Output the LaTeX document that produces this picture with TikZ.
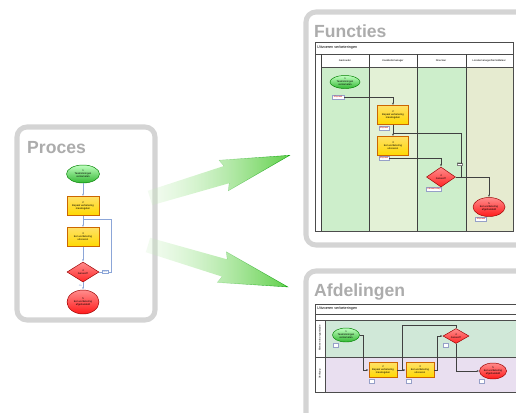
\documentclass[tikz,border=0pt]{standalone}
\usepackage{fontspec}
\setmainfont{Liberation Sans}
\usetikzlibrary{calc,shapes,arrows.meta,fadings,positioning}

\definecolor{panelgray}{RGB}{212,212,212}
\definecolor{titlegray}{RGB}{172,172,172}
\definecolor{flowblue}{RGB}{140,166,216}
\definecolor{laneone}{RGB}{205,238,203}
\definecolor{lanetwo}{RGB}{227,241,214}
\definecolor{lanefour}{RGB}{230,235,208}
\definecolor{afdone}{RGB}{208,232,216}
\definecolor{afdtwo}{RGB}{233,223,240}
\definecolor{arrowtail}{RGB}{200,240,190}
\definecolor{arrowhead}{RGB}{96,208,74}
\definecolor{tagedge}{RGB}{150,160,200}
\tikzfading[name=arrowfade, left color=transparent!80, right color=transparent!0]

\begin{document}
\begin{tikzpicture}[x=0.03cm,y=-0.03cm,
	panel/.style={draw=panelgray,line width=4.3pt,rounded corners=0.3cm,fill=white},
	paneltitle/.style={anchor=base west,inner sep=0,text=titlegray,font=\fontsize{15}{15}\selectfont\bfseries},
	tiny/.style={font=\fontsize{2.2}{2.6}\selectfont,align=center,inner sep=0},
	startnode/.style={ellipse,draw=green!50!black,thin,top color=green!25,bottom color=green!65!black!80,tiny},
	actnode/.style={rectangle,draw=orange!80!black,thin,top color=yellow!60!orange!60,bottom color=yellow!70!orange,tiny},
	decnode/.style={diamond,draw=red!60!black,thin,top color=red!45,bottom color=red!85,tiny},
	endnode/.style={ellipse,draw=red!60!black,thin,top color=red!45,bottom color=red!90,tiny},
	tagbox/.style={rectangle,draw=tagedge,line width=0.3pt,fill=white,text=red!80!black,font=\fontsize{1.8}{2}\selectfont,inner sep=0.2pt,minimum height=0.12cm},
	flow/.style={flowblue,line width=0.6pt},
	lane/.style={gray!50!black,line width=0.4pt},
	grid/.style={black!70,line width=0.3pt}]

\useasboundingbox (0,0) rectangle (516,412);
\clip (0,0) rectangle (516,412);

% panels
\draw[panel] (17,127) rectangle (155,320);
\draw[panel] (306,12) rectangle (560,245);
\draw[panel] (306,271) rectangle (560,440);

\node[paneltitle] (tProces) at (27,153) {Proces};
\node[paneltitle] (tFuncties) at (314,37) {Functies};
\node[paneltitle] (tAfdelingen) at (314,296) {Afdelingen};

% Proces
\node[startnode,minimum width=0.99cm,minimum height=0.54cm] (pStart) at (83,174) {1\\Taak/storingen\\verzamelen};
\node[actnode,minimum width=0.96cm,minimum height=0.57cm] (pAct1) at (83,206) {2\\Bepaal verbetering\\maatregelen};
\node[actnode,minimum width=0.96cm,minimum height=0.57cm] (pAct2) at (83,237) {3\\Een verbetering\\uitvoeren};
\node[decnode,minimum width=0.96cm,minimum height=0.6cm] (pDec) at (83,272) {4\\Gereed?};
\node[endnode,minimum width=0.96cm,minimum height=0.72cm] (pEnd) at (83,302) {5\\Een verbetering\\afgehandeld};
\coordinate (pJoin) at (83,219);

\draw[flow,-{Latex[length=2pt]}] (pStart) -- (pAct1);
\draw[flow,-{Latex[length=2pt]}] (pAct1) -- (pAct2);
\draw[flow,-{Latex[length=2pt]}] (pAct2) -- (pDec);
\draw[flow,-{Latex[length=2pt]}] (pDec) -- node[tiny,left=1pt]{Ja} (pEnd);
\draw[flow] (pDec.east) -- ++(12,0) node[tiny,fill=white,draw=flowblue,pos=0.5,inner sep=0.3pt]{Nee} |- (pJoin);

% Functies
\fill[laneone] (321,67) rectangle (369,231);
\fill[lanetwo] (369,67) rectangle (417,231);
\fill[laneone] (417,67) rectangle (466,231);
\fill[lanefour] (466,67) rectangle (513,231);
\draw[grid] (315,42) rectangle (513,231);
\draw[grid] (315,54) -- (513,54);
\draw[grid] (321,67) -- (513,67);
\foreach \x in {321,369,417,466}
	\draw[lane] (\x,54) -- (\x,231);
\node[tiny,anchor=west] (fTitle) at (317,48) {\fontsize{3.2}{4}\selectfont Uitvoeren verbeteringen};
\node[tiny] (fCol1) at (345,61) {Gastouder};
\node[tiny] (fCol2) at (393,61) {Kwaliteitsmanager};
\node[tiny] (fCol3) at (441,61) {Directeur};
\node[tiny] (fCol4) at (489,61) {Locatiemanager/bemiddelaar};

\node[startnode,minimum width=0.9cm,minimum height=0.39cm] (fStart) at (345,82) {1\\Taak/storingen\\verzamelen};
\node[tagbox,minimum width=0.36cm] (fTag1) at (338,97) {Afspraak};
\node[actnode,minimum width=0.93cm,minimum height=0.57cm] (fAct1) at (393,115) {2\\Bepaal verbetering\\maatregelen};
\node[tagbox,minimum width=0.3cm] (fTag2) at (384,128) {Afspraak};
\node[actnode,minimum width=0.93cm,minimum height=0.57cm] (fAct2) at (393,146) {3\\Een verbetering\\uitvoeren};
\node[tagbox,minimum width=0.3cm] (fTag3) at (384,158) {Afspraak};
\node[decnode,minimum width=0.87cm,minimum height=0.6cm] (fDec) at (441,177) {4\\Gereed?};
\node[tagbox,minimum width=0.45cm] (fTag4) at (434,189) {Lidmaatschap};
\node[endnode,minimum width=0.96cm,minimum height=0.57cm] (fEnd) at (489,207) {5\\Een verbetering\\afgehandeld};
\node[tagbox,minimum width=0.33cm] (fTag5) at (481,219) {Afspraak};
\coordinate (fJoin) at (393,133);

\draw[lane,-{Latex[length=2pt]}] (fTag1.east) -| (fAct1.north);
\draw[lane,-{Latex[length=2pt]}] (fAct1.south) -- (fAct2.north);
\draw[lane,-{Latex[length=2pt]}] (fTag3.east) -| (fDec.north);
\draw[lane,-{Latex[length=2pt]}] (fDec.east) -| (fEnd.north);
\draw[lane] (fDec.east) -- ++(5,0) |- (fJoin);
\node[tiny,fill=white,draw=gray,inner sep=0.3pt] (fNee) at (460,164) {Nee};

% Afdelingen
\fill[afdone] (325,320) rectangle (530,357);
\fill[afdtwo] (325,357) rectangle (530,392);
\draw[grid] (315,304) rectangle (530,392);
\draw[grid] (315,314) -- (530,314);
\draw[grid] (315,320) -- (530,320);
\draw[grid] (315,357) -- (530,357);
\draw[grid] (325,320) -- (325,392);
\node[tiny,anchor=west] (aTitle) at (317,309) {\fontsize{3.2}{4}\selectfont Uitvoeren verbeteringen};
\node[tiny,rotate=90] (aLane1) at (320,338) {Mensen in organisatie};
\node[tiny,rotate=90] (aLane2) at (320,374) {Verkoop};

\node[startnode,minimum width=0.81cm,minimum height=0.42cm] (aStart) at (346,335) {1\\Taak/storingen\\verzamelen};
\node[tagbox,minimum width=0.15cm] (aTag1) at (336,345) {};
\node[actnode,minimum width=0.84cm,minimum height=0.45cm] (aAct1) at (383,370) {2\\Bepaal verbetering\\maatregelen};
\node[tagbox,minimum width=0.15cm] (aTag2) at (372,381) {};
\node[actnode,minimum width=0.84cm,minimum height=0.45cm] (aAct2) at (420,370) {3\\Een verbetering\\uitvoeren};
\node[tagbox,minimum width=0.15cm] (aTag3) at (409,381) {};
\node[decnode,minimum width=0.78cm,minimum height=0.45cm] (aDec) at (456,336) {4\\Gereed?};
\node[tagbox,minimum width=0.15cm] (aTag4) at (446,345) {};
\node[endnode,minimum width=0.81cm,minimum height=0.48cm] (aEnd) at (493,371) {5\\Een verbetering\\afgehandeld};
\node[tagbox,minimum width=0.15cm] (aTag5) at (482,381) {};
\coordinate (aJoin) at (402,370);

\draw[lane,-{Latex[length=2pt]}] (aStart.east) -- ++(3,0) |- (aAct1.west);
\draw[lane,-{Latex[length=2pt]}] (aAct1.east) -- (aAct2.west);
\draw[lane,-{Latex[length=2pt]}] (aAct2.east) -- ++(3,0) |- (aDec.west);
\draw[lane,-{Latex[length=2pt]}] (aDec.south) |- (aEnd.west);
\draw[lane] (aDec.north) -- ++(0,-3) -| (aJoin);

% green arrows
\begin{scope}[shift={(150,198)},rotate=17]
	\shade[left color=arrowtail,right color=arrowhead,path fading=arrowfade]
		(0,-7.5) -- (80,-9) -- (77,-16) -- (146,0) -- (77,16) -- (80,9) -- (0,7.5) -- cycle;
	\draw[green!60!black,line width=0.3pt,path fading=arrowfade]
		(80,-9) -- (77,-16) -- (146,0) -- (77,16) -- (80,9);
\end{scope}
\begin{scope}[shift={(148,245)},rotate=-16.7]
	\shade[left color=arrowtail,right color=arrowhead,path fading=arrowfade]
		(0,-7.5) -- (80,-9) -- (77,-16) -- (146,0) -- (77,16) -- (80,9) -- (0,7.5) -- cycle;
	\draw[green!60!black,line width=0.3pt,path fading=arrowfade]
		(80,-9) -- (77,-16) -- (146,0) -- (77,16) -- (80,9);
\end{scope}

\end{tikzpicture}
\end{document}
